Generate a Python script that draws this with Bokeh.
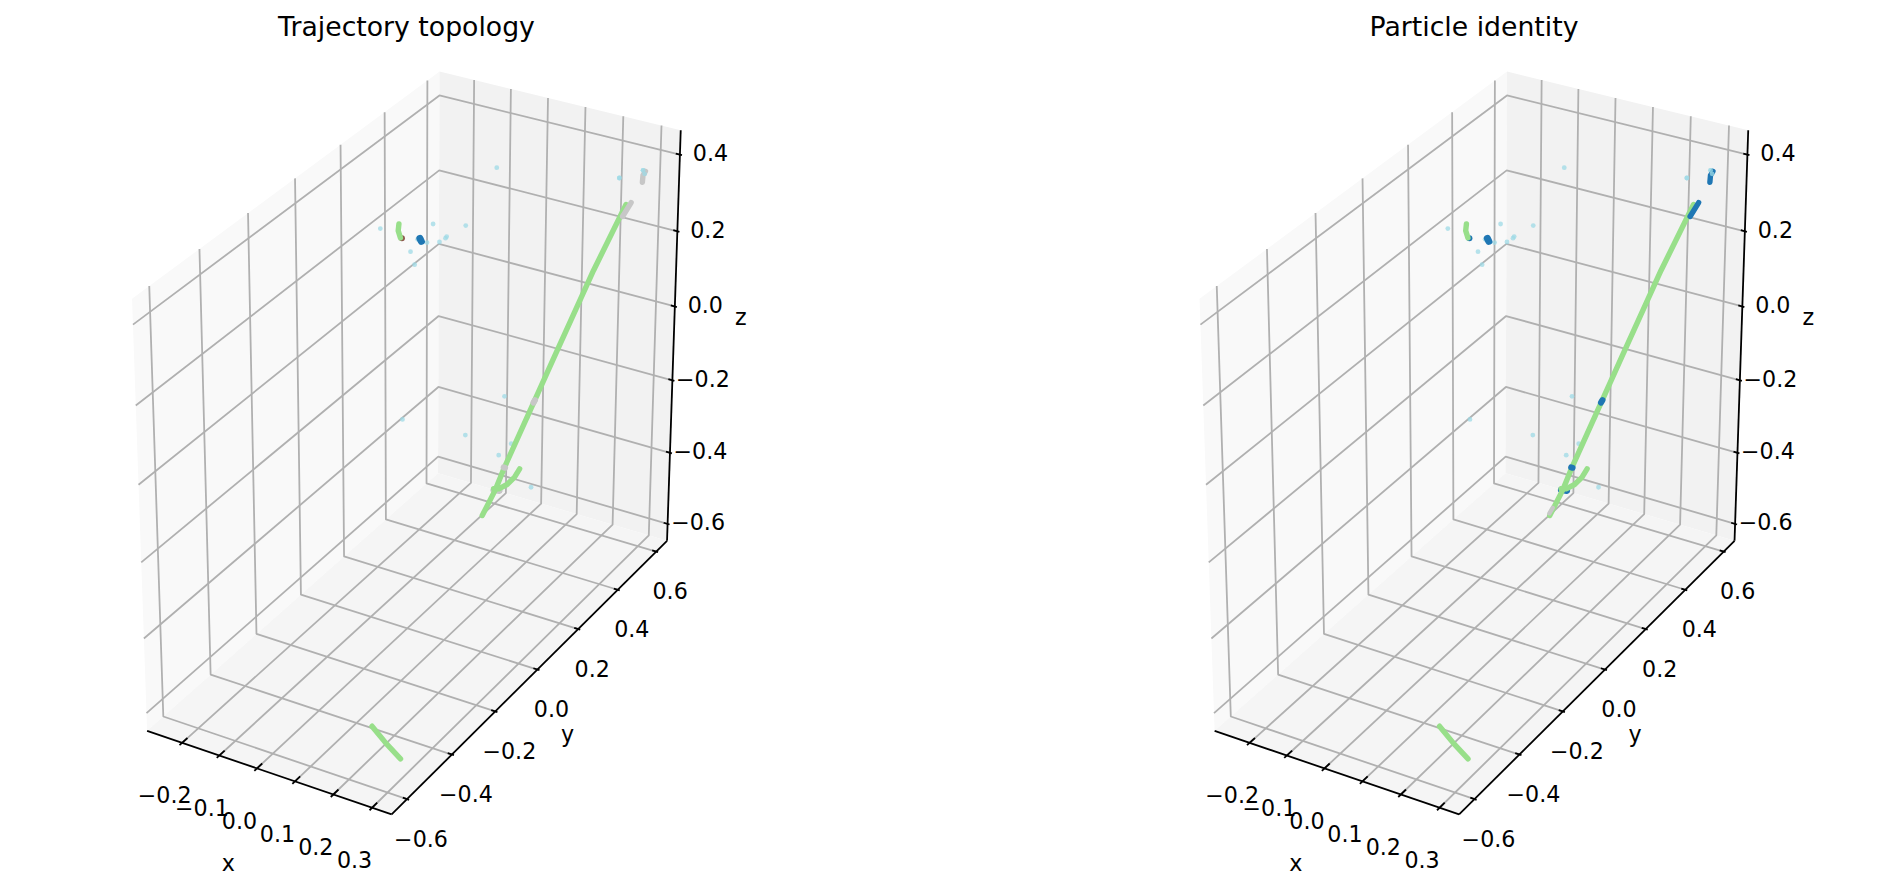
import numpy as np
from bokeh.plotting import figure
from bokeh.core.properties import value
from bokeh.embed import file_html
from bokeh.resources import INLINE
from bokeh.models import Range1d

# ---- axes ----
X_LIM = (-0.295, 0.35)
Y_LIM = (-0.667, 0.658)
Z_LIM = (-0.648, 0.463)
X_TICKS = [-0.2, -0.1, 0.0, 0.1, 0.2, 0.3]
Y_TICKS = [-0.6, -0.4, -0.2, 0.0, 0.2, 0.4, 0.6]
Z_TICKS = [-0.6, -0.4, -0.2, 0.0, 0.2, 0.4]
TITLES = ["Trajectory topology", "Particle identity"]

# ---- tracks, [x, y, z] ----
main_track = [[0.319, 0.45, 0.354], [0.239, 0.45, 0.162], [0.144, 0.45, -0.084], [0.088, 0.45, -0.230],
              [0.009, 0.45, -0.436], [-0.015, 0.45, -0.505], [-0.051, 0.45, -0.589]]
branch_track = [[0.051, 0.45, -0.427], [0.037, 0.45, -0.455], [0.017, 0.45, -0.481], [-0.006, 0.45, -0.500], [-0.020, 0.45, -0.504]]
bottom_track = [[0.141, -0.40, -0.643], [0.178, -0.40, -0.677], [0.216, -0.40, -0.706]]
side_track = [[-0.139, 0.20, 0.298], [-0.141, 0.20, 0.280], [-0.135, 0.20, 0.263]]
# ---- secondary segments (grey on the left, blue on the right) ----
main_top = [[0.332, 0.45, 0.362], [0.311, 0.45, 0.321]]
main_mid_a = [[0.090, 0.45, -0.226], [0.086, 0.45, -0.234]]
main_mid_b = [[0.007, 0.45, -0.436], [0.011, 0.45, -0.436]]
main_low = [[-0.020, 0.45, -0.507], [-0.004, 0.45, -0.505]]
far_top = [[0.316, 0.55, 0.395], [0.310, 0.55, 0.383], [0.309, 0.55, 0.365]]
near_cluster = [[-0.083, 0.20, 0.275], [-0.079, 0.20, 0.268]]
tip = [[-0.043, 0.45, -0.565], [-0.052, 0.45, -0.583]]
side_end = [[-0.131, 0.20, 0.263]]
# ---- isolated hits ----
hits = [[-0.189, 0.20, 0.273], [-0.048, 0.20, 0.321], [0.038, 0.20, 0.339], [-0.012, 0.20, 0.298], [-0.015, 0.20, 0.293],
        [-0.031, 0.20, 0.279], [-0.064, 0.20, 0.269], [-0.108, 0.20, 0.234], [-0.097, 0.20, 0.203], [-0.089, 0.20, 0.271],
        [-0.130, 0.20, -0.218], [0.062, 0.30, 0.449], [0.249, 0.55, 0.361], [0.310, 0.55, 0.396], [0.314, 0.55, 0.388],
        [0.007, 0.45, -0.239], [0.096, 0.45, -0.210], [0.070, 0.45, -0.279], [-0.100, 0.45, -0.377], [0.027, 0.45, -0.364],
        [-0.007, 0.45, -0.406], [0.083, 0.45, -0.469]]

# ---- view ----
CAMERA = np.array([[357.05658, 252.90296, -19.84677, 406.71795],
                   [88.51467, -155.35114, -400.51992, 388.01046],
                   [-0.04932, 0.07976, -0.04851, 1.0]])
PANEL_SHIFT = [0, 1067.5]
GREEN, BLUE, GREY, CYAN, BROWN = "#98df8a", "#1f77b4", "#c7c7c7", "#9edae5", "#8c564b"
GRID = "#b0b0b0"
FONT = value("DejaVu Sans")
LW = 1.8


def project(points, shift):
    pts = np.c_[np.array(points, dtype=float), np.ones(len(points))]
    w = pts @ CAMERA.T
    return w[:, 0] / w[:, 2] + shift, w[:, 1] / w[:, 2]


p = figure(width=1863, height=878, x_range=Range1d(0, 1863), y_range=Range1d(878, 0),
           output_backend="svg", toolbar_location=None, x_axis_type=None, y_axis_type=None, min_border=0)
p.grid.visible = False
p.outline_line_color = None
p.background_fill_color = "white"
x0, x1 = X_LIM
y0, y1 = Y_LIM
z0, z1 = Z_LIM


def fmt(t):
    return f"{t:.1f}".replace("-", "\u2212")


def labels(u, v, txt, size="22.2px"):
    p.text(x=list(u), y=list(v), text=list(txt), text_font=FONT, text_font_size=size, text_color="black",
           text_align="center", text_baseline="middle")


for panel, shift in enumerate(PANEL_SHIFT):
    # panes
    for corners, col in [([[x0, y0, z0], [x0, y1, z0], [x0, y1, z1], [x0, y0, z1]], "#f9f9f9"),
                         ([[x0, y1, z0], [x1, y1, z0], [x1, y1, z1], [x0, y1, z1]], "#f2f2f2"),
                         ([[x0, y0, z0], [x1, y0, z0], [x1, y1, z0], [x0, y1, z0]], "#f5f5f5")]:
        u, v = project(corners, shift)
        p.patch(list(u), list(v), fill_color=col, line_color=None)
    # grid
    paths = [[[t, y0, z0], [t, y1, z0], [t, y1, z1]] for t in X_TICKS]
    paths += [[[x1, t, z0], [x0, t, z0], [x0, t, z1]] for t in Y_TICKS]
    paths += [[[x0, y0, t], [x0, y1, t], [x1, y1, t]] for t in Z_TICKS]
    for path in paths:
        u, v = project(path, shift)
        p.line(list(u), list(v), line_color=GRID, line_width=LW)
    # axis lines
    for a, b in [([x0, y0, z0], [x1, y0, z0]), ([x1, y0, z0], [x1, y1, z0]), ([x1, y1, z0], [x1, y1, z1])]:
        u, v = project([a, b], shift)
        p.line(list(u), list(v), line_color="black", line_width=LW)
    # ticks
    dx, dy = (x1 - x0) / 12, (y1 - y0) / 12
    for t in X_TICKS:
        u, v = project([[t, y0 - 0.1 * dy, z0], [t, y0 + 0.2 * dy, z0]], shift)
        p.line(list(u), list(v), line_color="black", line_width=LW)
    for t in Y_TICKS:
        u, v = project([[x1 + 0.1 * dx, t, z0], [x1 - 0.2 * dx, t, z0]], shift)
        p.line(list(u), list(v), line_color="black", line_width=LW)
    for t in Z_TICKS:
        u, v = project([[x1 + 0.1 * dx, y1, t], [x1 - 0.2 * dx, y1, t]], shift)
        p.line(list(u), list(v), line_color="black", line_width=LW)
    # tick labels
    u, v = project([[t, y0, z0] for t in X_TICKS], shift)
    labels(u - 17.5, v + 52, [fmt(t) for t in X_TICKS])
    u, v = project([[x1, t, z0] for t in Y_TICKS], shift)
    labels(u + 14, v + 39, [fmt(t) for t in Y_TICKS])
    u, v = project([[x1, y1, t] for t in Z_TICKS], shift)
    labels(u + 30.5, v - 2, [fmt(t) for t in Z_TICKS])
    # axis names
    u, v = project([[(x0 + x1) / 2, y0, z0]], shift)
    labels(u - 39, v + 91, ["x"])
    u, v = project([[x1, (y0 + y1) / 2, z0]], shift)
    labels(u + 31, v + 64, ["y"])
    u, v = project([[x1, y1, (z0 + z1) / 2]], shift)
    labels(u + 67, v - 24, ["z"])
    labels([406 + shift], [26], [TITLES[panel]], "26.7px")

    # marks
    u, v = project(hits, shift)
    p.scatter(list(u), list(v), size=4.8, marker="circle", fill_color=CYAN, fill_alpha=0.75, line_color=None)

    second = GREY if panel == 0 else BLUE

    def seg(points, col, width=5.4):
        u, v = project(points, shift)
        p.line(list(u), list(v), line_color=col, line_width=width, line_cap="round", line_join="round")

    u, v = project(side_end, shift)
    p.scatter(list(u), list(v), size=6, marker="circle", fill_color=BROWN if panel == 0 else BLUE, line_color=None)
    seg(main_low, second, 6.5)
    for t in (main_track, branch_track, bottom_track, side_track):
        seg(t, GREEN)
    if panel == 1:
        seg(tip, GREY, 4.4)
    for t in (main_top, far_top):
        seg(t, second)
    for t in (main_mid_a, main_mid_b):
        seg(t, second, 6)
    seg(near_cluster, BLUE, 7)
    u, v = project(hits[12:15], shift)
    p.scatter(list(u), list(v), size=4.8, marker="circle", fill_color=CYAN, fill_alpha=0.75, line_color=None)

open("out.html", "w").write(file_html(p, INLINE))
